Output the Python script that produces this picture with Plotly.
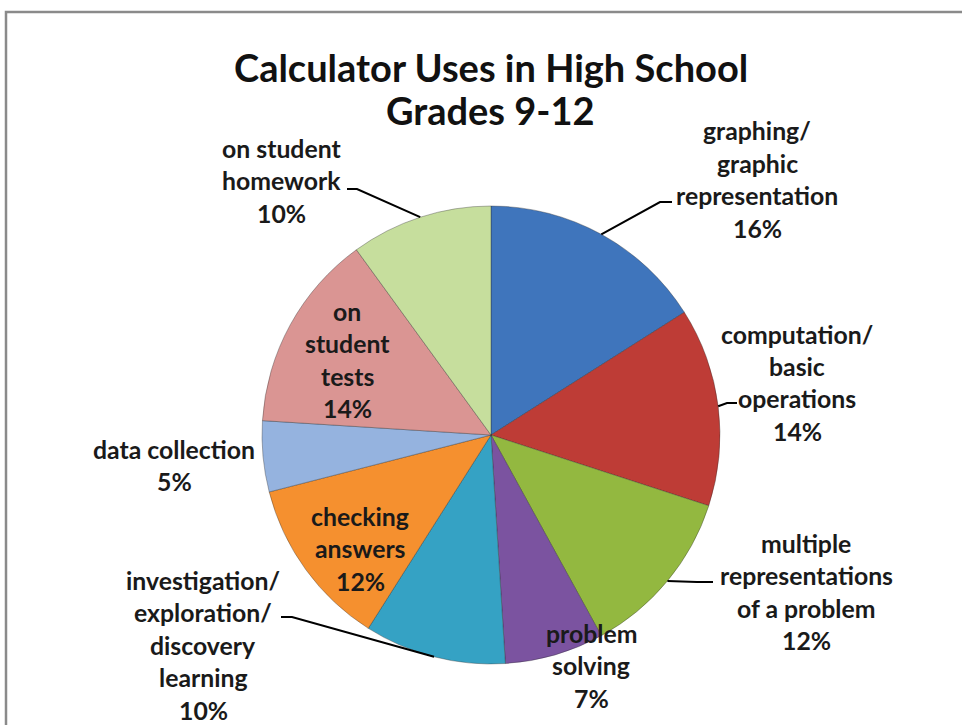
import math
import plotly.graph_objects as go

# ---------------- data ----------------
categories = [
    "graphing/ graphic representation",
    "computation/ basic operations",
    "multiple representations of a problem",
    "problem solving",
    "investigation/ exploration/ discovery learning",
    "checking answers",
    "data collection",
    "on student tests",
    "on student homework",
]
values = [16, 14, 12, 7, 10, 12, 5, 14, 10]
title_lines = ["Calculator Uses in High School", "Grades 9-12"]

# ---------------- styling / layout ----------------
colors = ["#3F75BC", "#BE3C36", "#93B840", "#7B53A0", "#35A2C4",
          "#F5902F", "#95B3DF", "#DA9593", "#C6DE9D"]
label_lines = [
    ["graphing/", "graphic", "representation"],
    ["computation/", "basic", "operations"],
    ["multiple", "representations", "of a problem"],
    ["problem", "solving"],
    ["investigation/", "exploration/", "discovery", "learning"],
    ["checking", "answers"],
    ["data collection"],
    ["on", "student", "tests"],
    ["on student", "homework"],
]
# centre x and first-line y (pixels) of each label block
label_pos = [(757, 131), (797, 334), (806, 543), (591, 633), (203, 580),
             (360, 516), (174, 449), (347, 311), (281, 148)]
line_gap = 32.5
# leader lines: index -> (elbow, end) in pixels
leaders = {
    0: ((660, 202), (672, 202)),
    1: ((727, 403), (737, 403)),
    2: ((697, 582), (713, 582)),
    4: ((292, 617), (281, 617)),
    8: ((357, 189), (347, 189)),
}

W, H = 962, 725
CX, CY, R = 491, 435, 229
FONT = "Lato"


def px(x):
    return x / W


def py(y):
    return 1 - y / H


fig = go.Figure(go.Pie(
    labels=categories,
    values=values,
    sort=False,
    direction="clockwise",
    rotation=0,
    marker=dict(colors=colors, line=dict(color="rgba(40,40,40,0.35)", width=1)),
    textinfo="none",
    hoverinfo="label+percent",
    domain=dict(x=[px(CX - R), px(CX + R)], y=[py(CY + R), py(CY - R)]),
    showlegend=False,
))

annotations = []
# title
for i, t in enumerate(title_lines):
    annotations.append(dict(
        text=t, x=px(491), y=py(67 + 43 * i), xref="paper", yref="paper",
        xanchor="center", yanchor="middle", showarrow=False,
        font=dict(family=FONT, size=38, color="#111111", weight="bold"),
    ))

# slice labels
total = sum(values)
for i, (lines, v) in enumerate(zip(label_lines, values)):
    cx, y0 = label_pos[i]
    all_lines = lines + [f"{round(100 * v / total)}%"]
    for j, t in enumerate(all_lines):
        annotations.append(dict(
            text=t, x=px(cx), y=py(y0 + j * line_gap), xref="paper", yref="paper",
            xanchor="center", yanchor="middle", showarrow=False,
            font=dict(family=FONT, size=24.8, color="#1a1a1a", weight="bold"),
        ))

# frame + leader lines, starting at each slice's outer edge midpoint
shapes = [dict(type="rect", xref="paper", yref="paper",
               x0=px(6), x1=1.2, y0=-0.2, y1=py(12),
               line=dict(color="#8a8a8a", width=2.5), layer="below")]
cum = 0
mids = []
for v in values:
    mids.append((cum + v / 2) / total * 2 * math.pi)
    cum += v
for i, ((ex, ey), (hx, hy)) in leaders.items():
    a = mids[i]
    sx = CX + R * math.sin(a)
    sy = CY - R * math.cos(a)
    path = f"M {px(sx)} {py(sy)} L {px(ex)} {py(ey)} L {px(hx)} {py(hy)}"
    shapes.append(dict(type="path", xref="paper", yref="paper", path=path,
                       line=dict(color="#000000", width=2)))

fig.update_layout(
    width=W, height=H,
    margin=dict(l=0, r=0, t=0, b=0),
    paper_bgcolor="white",
    plot_bgcolor="white",
    annotations=annotations,
    shapes=shapes,
    font=dict(family=FONT),
)

fig.write_html(
    "out.html",
    config={"displayModeBar": False},
    post_script="document.body.style.margin='0';document.body.style.overflow='hidden';",
)
